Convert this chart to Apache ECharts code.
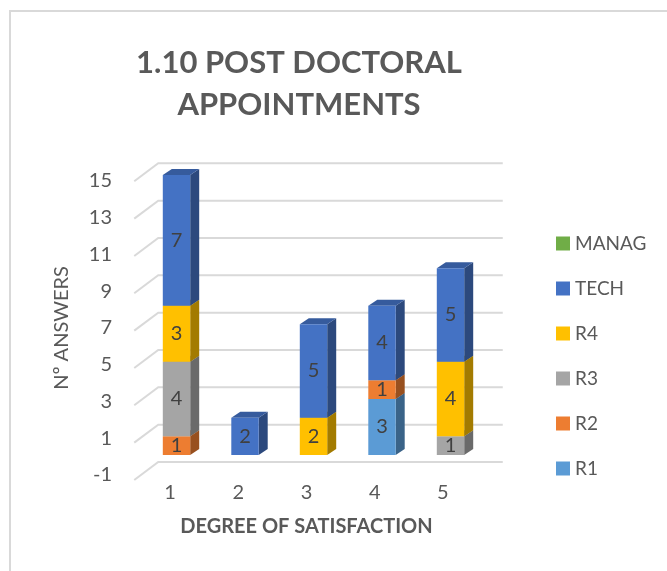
<!DOCTYPE html>
<html>
<head>
<meta charset="utf-8">
<script src="https://cdn.jsdelivr.net/npm/echarts@6/dist/echarts.min.js"></script>
<style>
  html, body { margin: 0; padding: 0; background: #fff; }
  #chart { width: 667px; height: 571px; }
</style>
</head>
<body>
<div id="chart"></div>
<script>
// degree of satisfaction (x) and answers per staff group
const categories = ['1', '2', '3', '4', '5']
const seriesNames = ['R1', 'R2', 'R3', 'R4', 'TECH', 'MANAG']
const r1 = [0, 0, 0, 3, 0]
const r2 = [1, 0, 0, 1, 0]
const r3 = [4, 0, 0, 0, 1]
const r4 = [3, 0, 2, 0, 4]
const tech = [7, 2, 5, 4, 5]
const manag = [0, 0, 0, 0, 0]
const yTicks = [-1, 1, 3, 5, 7, 9, 11, 13, 15]

const seriesValues = [r1, r2, r3, r4, tech, manag]
const colors = ['#5B9BD5', '#ED7D31', '#A5A5A5', '#FFC000', '#4472C4', '#70AD47']
const FONT = 'Lato, "Open Sans", sans-serif'
const TXT = '#595959'
const DX = 9
const DY = -6

function shade(hex, f) {
  const n = parseInt(hex.slice(1), 16)
  const r = Math.round(((n >> 16) & 255) * f)
  const g = Math.round(((n >> 8) & 255) * f)
  const b = Math.round((n & 255) * f)
  return 'rgb(' + r + ',' + g + ',' + b + ')'
}

// stack bottoms / tops per category
const bottoms = categories.map(() => 0)
const barSeries = seriesValues.map((vals, si) => {
  const data = vals.map((v, ci) => {
    const lo = bottoms[ci]
    bottoms[ci] += v
    return [ci, lo, lo + v, v]
  })
  const color = colors[si]
  return {
    name: seriesNames[si],
    type: 'custom',
    xAxisIndex: 1,
    yAxisIndex: 1,
    z: 3,
    itemStyle: { color: color },
    encode: { x: 0, y: [1, 2] },
    data: data,
    renderItem: (params, api) => {
      const ci = api.value(0)
      const v = api.value(3)
      if (!v) return
      const pLo = api.coord([ci, api.value(1)])
      const pHi = api.coord([ci, api.value(2)])
      const w = api.size([1, 0])[0] * 0.4
      const x0 = pLo[0] - w / 2
      const x1 = pLo[0] + w / 2
      const yb = pLo[1]
      const yt = pHi[1]
      return {
        type: 'group',
        children: [
          {
            type: 'polygon',
            shape: { points: [[x1, yb], [x1 + DX, yb + DY], [x1 + DX, yt + DY], [x1, yt]] },
            style: { fill: shade(color, 0.64) },
          },
          {
            type: 'polygon',
            shape: { points: [[x0, yt], [x1, yt], [x1 + DX, yt + DY], [x0 + DX, yt + DY]] },
            style: { fill: shade(color, 0.8) },
          },
          {
            type: 'rect',
            shape: { x: x0, y: yt, width: w, height: yb - yt },
            style: { fill: color },
          },
          {
            type: 'text',
            style: {
              text: String(v),
              x: (x0 + x1) / 2,
              y: (yt + yb) / 2,
              align: 'center',
              verticalAlign: 'middle',
              font: '20px ' + FONT,
              fill: '#404040',
            },
          },
        ],
      }
    },
  }
})

// 3D-ish gridlines: front diagonal + back wall line
const gridSeries = {
  type: 'custom',
  xAxisIndex: 1,
  yAxisIndex: 1,
  z: 1,
  silent: true,
  encode: { x: 0, y: 1 },
  data: yTicks.map((v) => [0, v]),
  renderItem: (params, api) => {
    const cs = params.coordSys
    const y = api.coord([0, api.value(1)])[1]
    return {
      type: 'polyline',
      shape: {
        points: [
          [cs.x - 8, y + 6.3],
          [cs.x + 16, y - 11.7],
          [cs.x + cs.width + 18, y - 11.7],
        ],
      },
      style: { stroke: '#D9D9D9', lineWidth: 2, fill: null },
    }
  },
}

const chart = echarts.init(document.getElementById('chart'))
chart.setOption({
  animation: false,
  backgroundColor: '#fff',
  graphic: [
    {
      type: 'rect',
      shape: { x: 10, y: 11, width: 700, height: 600 },
      style: { fill: null, stroke: '#D9D9D9', lineWidth: 2 },
    },
  ],
  title: {
    text: '1.10 POST DOCTORAL\nAPPOINTMENTS',
    left: 294,
    top: 37,
    textAlign: 'center',
    textStyle: {
      fontFamily: FONT,
      fontWeight: 'bold',
      fontSize: 31,
      lineHeight: 42,
      color: TXT,
    },
  },
  legend: {
    data: ['MANAG', 'TECH', 'R4', 'R3', 'R2', 'R1'],
    orient: 'vertical',
    left: 551,
    top: 229,
    icon: 'rect',
    itemWidth: 14,
    itemHeight: 14,
    itemGap: 26,
    textStyle: { fontFamily: FONT, fontSize: 19, color: TXT, lineHeight: 19 },
  },
  grid: [
    { left: 136, top: 181, width: 341, height: 294 },
    { left: 142.25, top: 175, width: 342.5, height: 298.67 },
  ],
  xAxis: [
    {
      type: 'category',
      gridIndex: 0,
      data: categories,
      axisLine: { show: false },
      axisTick: { show: false },
      axisLabel: { fontFamily: FONT, fontSize: 20, color: TXT, margin: 8 },
      name: 'DEGREE OF SATISFACTION',
      nameLocation: 'middle',
      nameGap: 42,
      nameTextStyle: { fontFamily: FONT, fontSize: 20, fontWeight: 'bold', color: TXT },
    },
    { type: 'category', gridIndex: 1, data: categories, show: false },
  ],
  yAxis: [
    {
      type: 'value',
      gridIndex: 0,
      min: -1,
      max: 15,
      interval: 2,
      axisLine: { show: false },
      axisTick: { show: false },
      splitLine: { show: false },
      axisLabel: { fontFamily: FONT, fontSize: 20, color: TXT, margin: 24 },
      name: 'Nº ANSWERS',
      nameLocation: 'middle',
      nameRotate: 90,
      nameGap: 64,
      nameTextStyle: { fontFamily: FONT, fontSize: 20, color: TXT },
    },
    {
      type: 'value',
      gridIndex: 1,
      min: -1,
      max: 15,
      interval: 2,
      show: false,
      splitLine: { show: false },
    },
  ],
  series: [gridSeries].concat(barSeries),
})
</script>
</body>
</html>
